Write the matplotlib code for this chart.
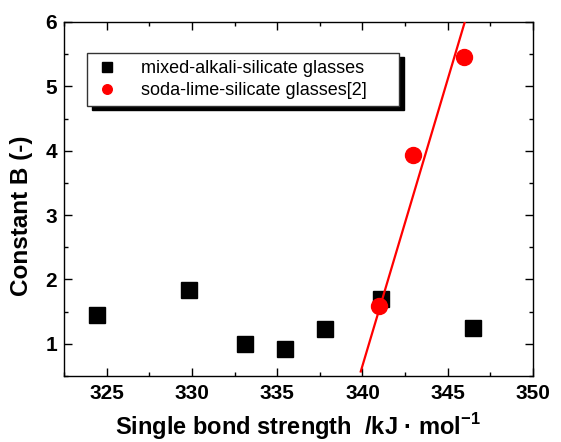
import matplotlib
matplotlib.use("Agg")
import matplotlib.pyplot as plt
from matplotlib.patches import Shadow
from matplotlib.ticker import MultipleLocator

plt.rcParams['font.family'] = ['Liberation Sans', 'DejaVu Sans']
plt.rcParams['mathtext.fontset'] = 'custom'
plt.rcParams['mathtext.rm'] = 'Liberation Sans'
plt.rcParams['mathtext.bf'] = 'Liberation Sans:bold'

# Data
mixed_x = [324.43, 329.82, 333.13, 335.48, 337.83, 341.10, 346.49]
mixed_y = [1.45, 1.84, 1.00, 0.92, 1.23, 1.70, 1.25]
soda_x = [340.96, 342.99, 345.97]
soda_y = [1.58, 3.93, 5.45]
fit_x = [339.9, 346.0]
fit_y = [0.57, 6.0]

x_ticks = [325, 330, 335, 340, 345, 350]
y_ticks = [1, 2, 3, 4, 5, 6]

fig = plt.figure(figsize=(5.61, 4.42), dpi=100)
ax = fig.add_axes([64/561, 1-376/442, (533-64)/561, (376-22)/442])

ax.plot(mixed_x, mixed_y, ls='none', marker='s', ms=11, color='black',
        label='mixed-alkali-silicate glasses', zorder=2)
ax.plot(fit_x, fit_y, color='red', lw=1.6, zorder=3)
ax.plot(soda_x, soda_y, ls='none', marker='o', ms=11.5, color='red',
        label='soda-lime-silicate glasses[2]', zorder=4)

ax.set_xlim(322.5, 350)
ax.set_ylim(0.5, 6)
ax.set_xticks(x_ticks)
ax.set_yticks(y_ticks)
ax.xaxis.set_minor_locator(MultipleLocator(2.5))
ax.yaxis.set_minor_locator(MultipleLocator(0.5))
ax.tick_params(which='both', direction='in', top=True, right=True, width=1)
ax.tick_params(which='major', length=5.5)
ax.tick_params(which='minor', length=3)
ax.tick_params(axis='x', pad=6)
ax.tick_params(axis='y', pad=5)
for lab in ax.get_xticklabels() + ax.get_yticklabels():
    lab.set_fontsize(15)
    lab.set_fontweight('bold')
for s in ax.spines.values():
    s.set_linewidth(1.0)

ax.set_ylabel('Constant B (-)', fontsize=17.5, fontweight='bold')
ax.yaxis.set_label_coords(-0.066, 0.452)
ax.set_xlabel(r'Single bond strength  /kJ · mol$^{\mathbf{-1}}$', fontsize=17, fontweight='bold')
ax.xaxis.set_label_coords(0.498, -0.10)

leg = ax.legend(loc='upper left', bbox_to_anchor=(0.049, 0.912 - 0.15, 312/469, 0.15),
                mode='expand', borderaxespad=0,
                fancybox=False, shadow=False, fontsize=13, markerscale=0.6,
                handlelength=1.4, handletextpad=1.2, borderpad=0.4,
                labelspacing=0.25, framealpha=1)
leg.get_frame().set_edgecolor('#333333')
leg.get_frame().set_linewidth(1.0)

fig.canvas.draw()
sh = Shadow(leg.legendPatch, 3.6, -3.0, facecolor='black', edgecolor='black', alpha=1)
sh.set_zorder(leg.get_zorder() - 0.1)
ax.add_artist(sh)
sh.set_clip_on(False)

fig.savefig('out.png', dpi=100)
